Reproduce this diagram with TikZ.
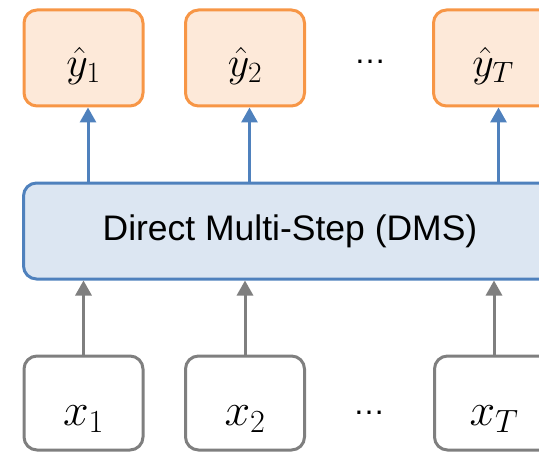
\RequirePackage{fix-cm}
\documentclass[tikz,border=0pt]{standalone}
\usepackage{fontspec}
\setmainfont{Liberation Sans}
\usepackage{tikz}
\usetikzlibrary{arrows.meta, positioning}
\definecolor{outorange}{HTML}{F79646}
\definecolor{outfill}{HTML}{FDE9D9}
\definecolor{dmsblue}{HTML}{4F81BD}
\definecolor{dmsfill}{HTML}{DCE6F2}
\definecolor{ingray}{HTML}{7F7F7F}

\begin{document}
\begin{tikzpicture}[x=1pt, y=-1pt,
    box/.style={line width=3pt, rounded corners=13pt, minimum width=119pt},
    outbox/.style={box, draw=outorange, fill=outfill, minimum height=96pt, text height=37pt, text depth=0pt, font=\fontsize{42}{44}\selectfont},
    inbox/.style={box, draw=ingray, fill=white, minimum height=94pt, text height=45pt, text depth=0pt, font=\fontsize{46}{48}\selectfont},
    dmsbox/.style={box, draw=dmsblue, fill=dmsfill, minimum width=533pt, minimum height=96pt, font=\fontsize{35.5}{40}\selectfont},
    dots/.style={font=\fontsize{32}{34}\selectfont},
    blue arrow/.style={line width=3pt, color=dmsblue, -{Triangle[width=16pt, length=15pt]}},
    gray arrow/.style={line width=3pt, color=ingray, -{Triangle[width=16pt, length=15pt]}}]
        \useasboundingbox (0,0) rectangle (539,452);
        % outputs
        \node[outbox] (y1) at (83.5, 58) {$\hat{y}_1$};
        \node[outbox] (y2) at (245, 58) {$\hat{y}_2$};
        \node[outbox] (yT) at (493, 58) {$\hat{y}_T$};
        \node[dots] (ydots) at (370, 62) {…};
        % model
        \node[dmsbox] (dms) at (290, 231) {Direct Multi-Step (DMS)};
        % inputs
        \node[inbox] (x1) at (83.5, 403) {$x_1$};
        \node[inbox] (x2) at (245, 403) {$x_2$};
        \node[inbox] (xT) at (494, 403) {$x_T$};
        \node[dots] (xdots) at (369, 413) {…};
        \path[gray arrow]
          (x1) edge (x1 |- dms.south)
          (x2) edge (x2 |- dms.south)
          (xT) edge (xT |- dms.south);
        \path[blue arrow]
          ([xshift=4.5pt]y1.south |- dms.north) edge ([xshift=4.5pt]y1.south)
          ([xshift=4.5pt]y2.south |- dms.north) edge ([xshift=4.5pt]y2.south)
          ([xshift=5.5pt]yT.south |- dms.north) edge ([xshift=5.5pt]yT.south);
\end{tikzpicture}
\end{document}
